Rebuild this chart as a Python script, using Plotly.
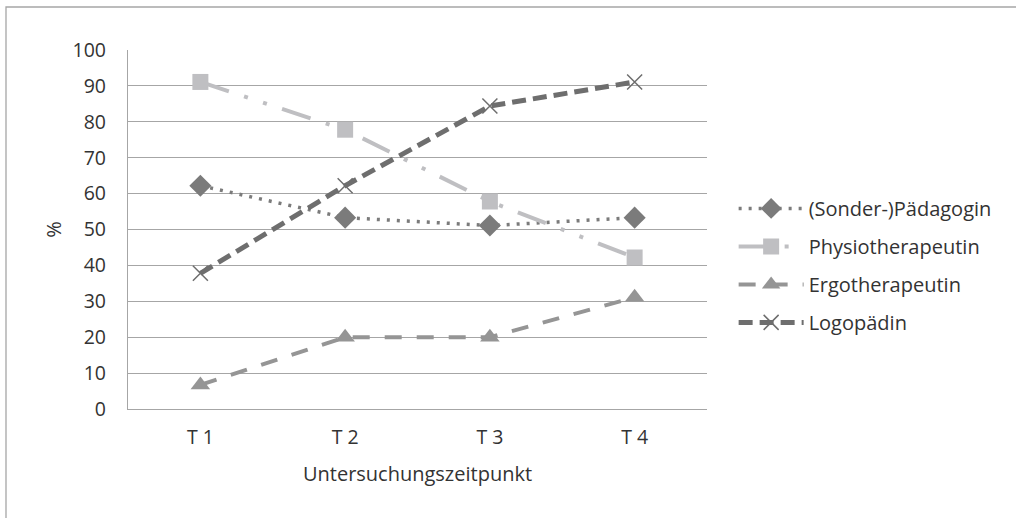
import plotly.graph_objects as go

categories = ["T 1", "T 2", "T 3", "T 4"]
paedagogin = [62.2, 53.3, 51.1, 53.3]
physio = [91.1, 77.8, 57.8, 42.2]
ergo = [6.7, 20.0, 20.0, 31.1]
logo = [37.8, 62.2, 84.4, 91.1]
names = ["(Sonder-)Pädagogin", "Physiotherapeutin", "Ergotherapeutin", "Logopädin"]
y_ticks = list(range(0, 101, 10))

FONT = "'Open Sans', sans-serif"
TXT = "#333333"
FS = 20

fig = go.Figure()
fig.add_trace(go.Scatter(
    x=categories, y=paedagogin, name=names[0], mode="lines+markers", legendgroup="a",
    line=dict(color="#7b7b7b", width=3.5, dash="3px,7px"),
    marker=dict(symbol="diamond", size=17, color="#7b7b7b")))
fig.add_trace(go.Scatter(
    x=categories, y=physio, name=names[1], mode="lines+markers", legendgroup="b",
    line=dict(color="#bfbfc2", width=4, dash="30px,16px,4px,16px,4px,16px"),
    marker=dict(symbol="square", size=16, color="#bfbfc2")))
fig.add_trace(go.Scatter(
    x=categories, y=ergo, name=names[2], mode="lines+markers", legendgroup="c",
    line=dict(color="#959595", width=4, dash="17px,15px"),
    marker=dict(symbol="triangle-up", size=17, color="#959595")))
fig.add_trace(go.Scatter(
    x=categories, y=logo, name=names[3], mode="lines+markers", legendgroup="d",
    line=dict(color="#6e6e6e", width=5, dash="14px,7px"),
    marker=dict(symbol="x-thin", size=15, line=dict(color="#6e6e6e", width=1.5), color="#6e6e6e")))

fig.update_layout(
    width=1016, height=518,
    margin=dict(l=128, r=309, t=50, b=109),
    paper_bgcolor="white", plot_bgcolor="white",
    font=dict(family=FONT, size=FS, color=TXT),
    showlegend=True,
    legend=dict(x=1.046, y=0.40, xanchor="left", yanchor="middle",
                tracegroupgap=9, itemwidth=65,
                font=dict(family=FONT, size=FS, color=TXT),
                bgcolor="rgba(0,0,0,0)"),
    xaxis=dict(type="category", range=[-0.5, 3.5], showgrid=False,
               showline=True, linecolor="#a6a6a6", linewidth=1.3,
               ticks="", ticklabelstandoff=10, tickfont=dict(size=19.5, color=TXT),
               title=dict(text="Untersuchungszeitpunkt", font=dict(size=FS, color=TXT), standoff=18)),
    yaxis=dict(range=[0, 100], tickvals=y_ticks, showgrid=True,
               gridcolor="#a6a6a6", gridwidth=1.3,
               showline=True, linecolor="#a6a6a6", linewidth=1.3,
               zeroline=False, ticks="", ticklabelstandoff=17,
               tickfont=dict(size=19.5, color=TXT),
               title=dict(text="%", font=dict(size=FS, color=TXT), standoff=5)),
    shapes=[dict(type="rect", xref="paper", yref="paper",
                 x0=(6 - 128) / 579, x1=(1030 - 128) / 579,
                 y0=(409 - 530) / 359, y1=(409 - 7) / 359,
                 line=dict(color="#a6a6a6", width=1.3), fillcolor="rgba(0,0,0,0)", layer="below")],
)

fig.write_html("out.html", config={"displayModeBar": False},
               post_script="document.body.style.margin='0';")
